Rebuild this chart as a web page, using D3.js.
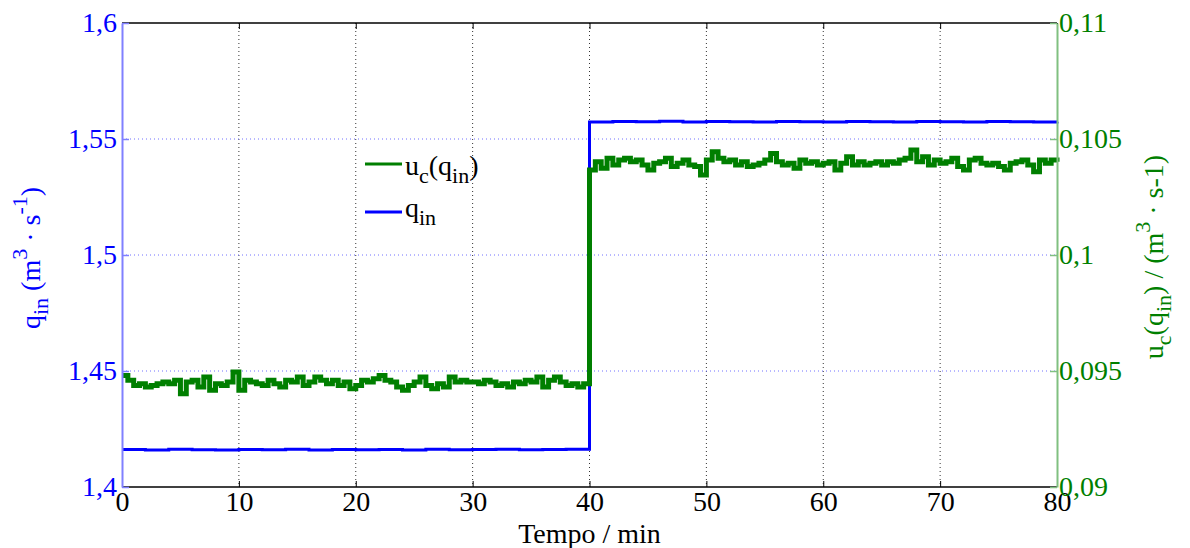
<!DOCTYPE html>
<html><head><meta charset="utf-8">
<script src="https://cdn.jsdelivr.net/npm/d3@7"></script>
<style>
html,body{margin:0;padding:0;background:#fff;}
</style></head>
<body><svg id="chart" width="1190" height="548"></svg>
<script>
// ---------- data ----------
const xTicks = [0,10,20,30,40,50,60,70,80];
const xTickLabels = ["0","10","20","30","40","50","60","70","80"];
const leftTicks = [1.4,1.45,1.5,1.55,1.6];
const leftTickLabels = ["1,4","1,45","1,5","1,55","1,6"];
const rightTicks = [0.09,0.095,0.1,0.105,0.11];
const rightTickLabels = ["0,09","0,095","0,1","0,105","0,11"];
// q_in (left axis), sampled every 2 min
const qinTimes = [0,2,4,6,8,10,12,14,16,18,20,22,24,26,28,30,32,34,36,38,40,42,44,46,48,50,52,54,56,58,60,62,64,66,68,70,72,74,76,78,80];
const qinValues = [1.4162,1.4160,1.4163,1.4161,1.4160,1.4162,1.4161,1.4163,1.4160,1.4162,1.4161,1.4162,1.4160,1.4163,1.4161,1.4162,1.4163,1.4161,1.4162,1.4163,
  1.5573,1.5575,1.5574,1.5576,1.5573,1.5575,1.5574,1.5573,1.5575,1.5574,1.5573,1.5575,1.5574,1.5573,1.5575,1.5574,1.5573,1.5575,1.5574,1.5573,1.5574];
// u_c(q_in) (right axis), sampled every 0.5 min from 0 to 80
const ucValues = [
 0.09481,0.09460,0.09438,0.09445,0.09431,0.09438,0.09445,0.09453,0.09445,0.09460,
 0.09402,0.09453,0.09460,0.09431,0.09474,0.09417,0.09445,0.09438,0.09453,0.09496,
 0.09417,0.09460,0.09453,0.09445,0.09438,0.09460,0.09445,0.09431,0.09460,0.09453,
 0.09474,0.09438,0.09453,0.09474,0.09460,0.09445,0.09460,0.09438,0.09453,0.09424,
 0.09438,0.09460,0.09453,0.09467,0.09481,0.09460,0.09453,0.09431,0.09417,0.09438,
 0.09453,0.09474,0.09438,0.09424,0.09445,0.09431,0.09474,0.09453,0.09460,0.09453,
 0.09453,0.09445,0.09460,0.09453,0.09438,0.09445,0.09431,0.09453,0.09445,0.09460,
 0.09453,0.09474,0.09431,0.09460,0.09474,0.09453,0.09438,0.09445,0.09431,0.09445,
 0.10366,0.10402,0.10374,0.10417,0.10388,0.10410,0.10417,0.10402,0.10410,0.10388,
 0.10366,0.10395,0.10402,0.10417,0.10381,0.10395,0.10410,0.10388,0.10381,0.10345,
 0.10410,0.10445,0.10417,0.10402,0.10410,0.10388,0.10402,0.10381,0.10388,0.10395,
 0.10410,0.10438,0.10402,0.10388,0.10395,0.10374,0.10410,0.10395,0.10402,0.10388,
 0.10395,0.10402,0.10366,0.10395,0.10424,0.10388,0.10402,0.10388,0.10395,0.10402,
 0.10388,0.10402,0.10395,0.10410,0.10417,0.10453,0.10402,0.10424,0.10388,0.10410,
 0.10395,0.10402,0.10417,0.10381,0.10366,0.10410,0.10417,0.10395,0.10388,0.10395,
 0.10381,0.10366,0.10395,0.10402,0.10410,0.10388,0.10359,0.10410,0.10395,0.10410,
 0.10402];
const ucStep = 0.5;

// ---------- layout ----------
const FONT = "'Liberation Serif','Times New Roman',serif";
const svg = d3.select("#chart");
const L = 122, R = 1057, T = 23, B = 487;
const x = d3.scaleLinear().domain([0,80]).range([L,R]);
const yL = d3.scaleLinear().domain([1.4,1.6]).range([B,T]);
const yR = d3.scaleLinear().domain([0.09,0.11]).range([B,T]);
const BLUE = "#0000ff", GREEN = "#007f00";

// gridlines
svg.append("g").selectAll("line").data(xTicks.slice(1,-1)).join("line")
  .attr("x1",d=>x(d)).attr("x2",d=>x(d)).attr("y1",T).attr("y2",B)
  .attr("stroke","#333").attr("stroke-width",1).attr("stroke-dasharray","1,3");
svg.append("g").selectAll("line").data(leftTicks.slice(1,-1)).join("line")
  .attr("x1",L).attr("x2",R).attr("y1",d=>yL(d)).attr("y2",d=>yL(d))
  .attr("stroke","#7070ff").attr("stroke-width",1).attr("stroke-dasharray","1,3");

// frame top/bottom
svg.append("line").attr("x1",L).attr("x2",R).attr("y1",T).attr("y2",T).attr("stroke","#000").attr("stroke-width",1.5);
svg.append("line").attr("x1",L).attr("x2",R).attr("y1",B).attr("y2",B).attr("stroke","#000").attr("stroke-width",1.5);

// x axis (bottom)
const xAxis = d3.axisBottom(x).tickValues(xTicks).tickFormat((d,i)=>xTickLabels[i]).tickSizeInner(-6).tickSizeOuter(0).tickPadding(3);
const gx = svg.append("g").attr("transform",`translate(0,${B})`).call(xAxis);
gx.attr("font-family",null).attr("font-size",null);
gx.select(".domain").remove();
gx.selectAll(".tick line").attr("stroke","#000");
gx.selectAll("text").attr("dy","0.75em").style("font-size","28px").style("fill","#000").style("font-family",FONT);
// top ticks
svg.append("g").attr("transform",`translate(0,${T})`)
  .call(d3.axisTop(x).tickValues(xTicks).tickFormat("").tickSizeInner(-6).tickSizeOuter(0))
  .call(g=>g.select(".domain").remove());

// data lines
const qinData = qinTimes.map((t,i)=>({t, v:qinValues[i]}));
const lineQ = d3.line().x(d=>x(d.t)).y(d=>yL(d.v)).curve(d3.curveStepAfter);
svg.append("path").datum(qinData).attr("d",lineQ).attr("fill","none")
  .attr("stroke",BLUE).attr("stroke-width",3);

const ucData = ucValues.map((v,i)=>({t:i*ucStep, v}));
const lineU = d3.line().x(d=>x(d.t)).y(d=>yR(d.v)).curve(d3.curveStepAfter);
svg.append("path").datum(ucData).attr("d",lineU).attr("fill","none")
  .attr("stroke",GREEN).attr("stroke-width",5).attr("stroke-linejoin","miter");

// left axis
const yAxisL = d3.axisLeft(yL).tickValues(leftTicks).tickFormat((d,i)=>leftTickLabels[i]).tickSizeInner(-7).tickSizeOuter(0).tickPadding(5);
const gl = svg.append("g").attr("transform",`translate(${L},0)`).call(yAxisL);
gl.attr("font-family",null).attr("font-size",null);
gl.select(".domain").attr("stroke","#8080ff").attr("stroke-width",2);
gl.selectAll(".tick line").attr("stroke","#8080ff").attr("stroke-width",1.5);
gl.selectAll("text").style("font-size","28px").style("fill",BLUE).style("font-family",FONT);

// right axis
const yAxisR = d3.axisRight(yR).tickValues(rightTicks).tickFormat((d,i)=>rightTickLabels[i]).tickSizeInner(-7).tickSizeOuter(0).tickPadding(2);
const gr = svg.append("g").attr("transform",`translate(${R},0)`).call(yAxisR);
gr.attr("font-family",null).attr("font-size",null);
gr.select(".domain").attr("stroke","#80c080").attr("stroke-width",2);
gr.selectAll(".tick line").attr("stroke","#80c080").attr("stroke-width",1.5);
gr.selectAll("text").style("font-size","28px").style("fill",GREEN).style("font-family",FONT);

// axis titles
svg.append("text").attr("x",(L+R)/2).attr("y",543).attr("text-anchor","middle")
  .style("font-size","28px").style("fill","#000").style("font-family",FONT).text("Tempo / min");

function rich(sel, parts){
  parts.forEach(p=>{
    const ts = sel.append("tspan").text(p.t);
    if(p.dy) ts.attr("dy",p.dy);
    if(p.fs) ts.style("font-size",p.fs+"px");
  });
}
const tl = svg.append("text").attr("transform","translate(40,258) rotate(-90)")
  .attr("text-anchor","middle").style("font-size","28px").style("fill",BLUE).style("font-family",FONT);
rich(tl,[{t:"q"},{t:"in",dy:8,fs:22},{t:" (m",dy:-8},{t:"3",dy:-13,fs:22},{t:" · s",dy:13},{t:"-1",dy:-13,fs:22},{t:")",dy:13}]);

const tr = svg.append("text").attr("transform","translate(1163,257) rotate(-90)")
  .attr("text-anchor","middle").style("font-size","28px").style("fill",GREEN).style("font-family",FONT);
rich(tr,[{t:"u"},{t:"c",dy:8,fs:22},{t:"(q",dy:-8},{t:"in",dy:8,fs:22},{t:") / (m",dy:-8},{t:"3",dy:-13,fs:22},{t:" · s-1)",dy:13}]);

// legend
const lg = svg.append("g");
lg.append("line").attr("x1",365).attr("x2",402).attr("y1",164).attr("y2",164).attr("stroke",GREEN).attr("stroke-width",3);
const t1 = lg.append("text").attr("x",405).attr("y",175).style("font-size","28px").style("fill","#000").style("font-family",FONT);
rich(t1,[{t:"u"},{t:"c",dy:8,fs:22},{t:"(q",dy:-8},{t:"in",dy:8,fs:22},{t:")",dy:-8}]);
lg.append("line").attr("x1",365).attr("x2",402).attr("y1",212).attr("y2",212).attr("stroke",BLUE).attr("stroke-width",3);
const t2 = lg.append("text").attr("x",405).attr("y",217).style("font-size","28px").style("fill","#000").style("font-family",FONT);
rich(t2,[{t:"q"},{t:"in",dy:8,fs:22}]);
</script></body></html>
